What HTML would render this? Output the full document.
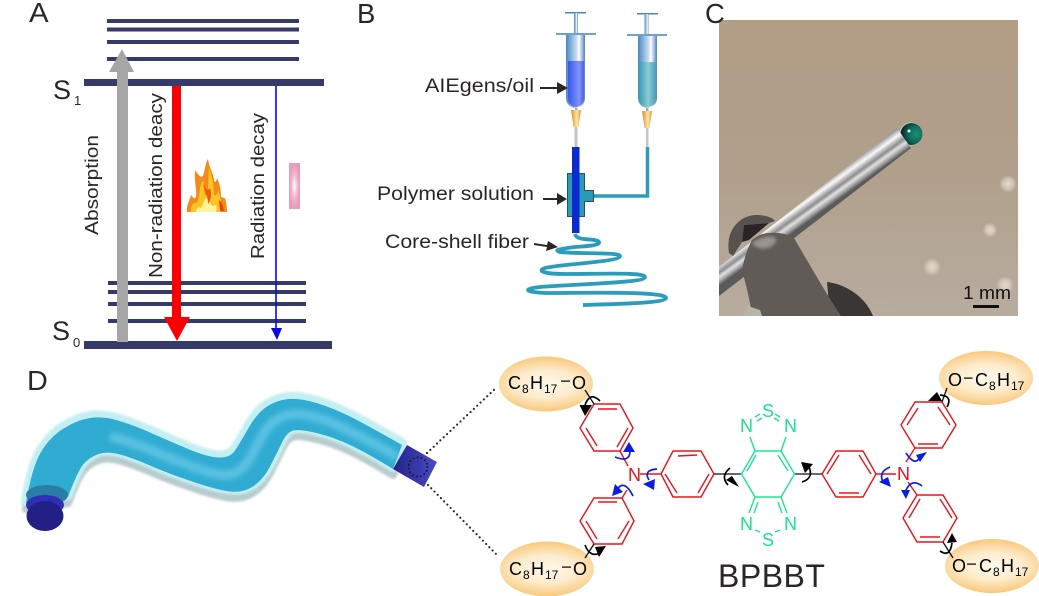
<!DOCTYPE html>
<html><head><meta charset="utf-8"><style>
html,body{margin:0;padding:0;background:#fff}
svg{display:block}
text{font-family:"Liberation Sans",Arial,sans-serif;fill:#2b2626}
.lab{font-size:28px}
.rot{font-size:18px}
.b{font-size:19px}
.m{font-size:18px;fill:#000}
.s{font-size:12px;fill:#000}
.n{font-size:18px;fill:#e8101c}
.g{font-size:18px;fill:#14e68c}
.r{stroke:#e8141c;stroke-width:1.4;fill:none}
.gr{stroke:#1ee58e;stroke-width:1.4;fill:none}
.k{stroke:#111;stroke-width:1.3;fill:none}
.ab{stroke:#0a1ee0;stroke-width:1.7;fill:none}
.ak{stroke:#000;stroke-width:1.7;fill:none}
</style></head><body>
<svg width="1039" height="596" viewBox="0 0 1039 596" xmlns="http://www.w3.org/2000/svg">
<defs>
<linearGradient id="bar" x1="0" x2="1" y1="0" y2="0"><stop offset="0" stop-color="#4b86c2"/><stop offset=".55" stop-color="#c5dcef"/><stop offset=".68" stop-color="#fff"/><stop offset="1" stop-color="#4f82ba"/></linearGradient>
<linearGradient id="liq1" x1="0" x2="1" y1="0" y2="0"><stop offset="0" stop-color="#3a56e6"/><stop offset=".7" stop-color="#8094fb"/><stop offset="1" stop-color="#4662ea"/></linearGradient>
<linearGradient id="liq2" x1="0" x2="1" y1="0" y2="0"><stop offset="0" stop-color="#389cb8"/><stop offset=".55" stop-color="#8ccbd0"/><stop offset="1" stop-color="#469dbf"/></linearGradient>
<linearGradient id="tip" x1="0" x2="1" y1="0" y2="0"><stop offset="0" stop-color="#d98a2c"/><stop offset=".6" stop-color="#ffe9a8"/><stop offset="1" stop-color="#e0902e"/></linearGradient>
<linearGradient id="photo" x1="0" x2="0" y1="0" y2="1"><stop offset="0" stop-color="#b29d86"/><stop offset=".5" stop-color="#b09f8a"/><stop offset="1" stop-color="#b8aca0"/></linearGradient>
<linearGradient id="rod" gradientUnits="userSpaceOnUse" x1="897" y1="128" x2="911" y2="147.4"><stop offset="0" stop-color="#8a8a8a"/><stop offset=".14" stop-color="#c4c4c4"/><stop offset=".28" stop-color="#fafafa"/><stop offset=".42" stop-color="#bdbdbd"/><stop offset=".55" stop-color="#8d8d8d"/><stop offset=".7" stop-color="#e2e2e2"/><stop offset=".86" stop-color="#a0a0a0"/><stop offset="1" stop-color="#5a5a5a"/></linearGradient>
<radialGradient id="ell" gradientTransform="translate(.5 .5) scale(1.3 1) translate(-.5 -.5)"><stop offset="0" stop-color="#fff8ea"/><stop offset=".5" stop-color="#fdeccd"/><stop offset="1" stop-color="#f9c87a"/></radialGradient>
<radialGradient id="pink"><stop offset="0" stop-color="#fff"/><stop offset=".55" stop-color="#efb6ca"/><stop offset="1" stop-color="#e79db6"/></radialGradient>
<radialGradient id="bok"><stop offset="0" stop-color="#e2dbcc"/><stop offset=".55" stop-color="#d9d0c0" stop-opacity=".8"/><stop offset="1" stop-color="#d0c5b5" stop-opacity="0"/></radialGradient>
<radialGradient id="ball" cx=".72" cy=".5" r=".75"><stop offset="0" stop-color="#1d8f76"/><stop offset=".5" stop-color="#0f6a58"/><stop offset=".85" stop-color="#0a2f2a"/><stop offset="1" stop-color="#0a1c1a"/></radialGradient>
<linearGradient id="end" x1="0" x2="1" y1="0" y2="0"><stop offset="0" stop-color="#23238a"/><stop offset="1" stop-color="#4a4ac8"/></linearGradient>
<filter id="bl1" x="-20%" y="-20%" width="140%" height="140%"><feGaussianBlur stdDeviation="1.5"/></filter>
<filter id="bl2" x="-20%" y="-20%" width="140%" height="140%"><feGaussianBlur stdDeviation="3"/></filter>
<filter id="bl3" x="-20%" y="-20%" width="140%" height="140%"><feGaussianBlur stdDeviation="1"/></filter>
<clipPath id="ph"><rect x="719" y="20" width="299" height="296"/></clipPath>
<path id="tube" d="M26 503Q32 467 41 452Q50 437 63.500 428.500Q77 420 90 418Q103 416 118 420.500Q133 425 150 432.500Q167 440 187 448.500Q207 457 218.500 457.500Q230 458 235 450.500Q240 443 248.500 428Q257 413 267 406.500Q277 400 288.500 399Q300 398 316.500 403Q333 408 350 416.500Q367 425 402 445L393 469Q367 453 350 445Q333 437 316.500 433Q300 429 293.500 430.500Q287 432 282 442.500Q277 453 270 466.500Q263 480 253 486.500Q243 493 230 491.500Q217 490 192 481.500Q167 473 150 465.500Q133 458 120 454.500Q107 451 98.500 454Q90 457 84 463.500Q78 470 68 497Z"/>
</defs>

<!-- Panel A -->
<text class="lab" x="0" y="0" transform="translate(29,22) scale(1.05,1)">A</text>
<g fill="#363a6a">
<rect x="107" y="19" width="192" height="4"/><rect x="107" y="27.500" width="192" height="4"/><rect x="107" y="40" width="192" height="4"/><rect x="107" y="57" width="192" height="4"/>
<rect x="84" y="79" width="240" height="7"/>
<rect x="108" y="281" width="198" height="4"/><rect x="108" y="290" width="198" height="4"/><rect x="108" y="302" width="198" height="4"/><rect x="108" y="319" width="198" height="4"/>
<rect x="84" y="341" width="248" height="8"/>
</g>
<path d="M117 342V72H109L122 49L134 72H128V342Z" fill="#a6a6a6"/>
<path d="M172 86H181V317H190L177 341L164 317H172Z" fill="#fb0000"/>
<path d="M276 86V329" stroke="#0a0ae6" stroke-width="1.600" fill="none"/>
<path d="M271 328H282L277 340Z" fill="#0a0ae6"/>
<text x="53" y="99" style="font-size:27px">S</text>
<text x="74" y="105" style="font-size:13px">1</text>
<text x="52" y="340" style="font-size:27px">S</text>
<text x="73" y="347" style="font-size:13px">0</text>
<text class="rot" transform="translate(98,235) rotate(-90)" textLength="100" lengthAdjust="spacingAndGlyphs">Absorption</text>
<text class="rot" transform="translate(162,278) rotate(-90)" textLength="185" lengthAdjust="spacingAndGlyphs">Non-radiation deacy</text>
<text class="rot" transform="translate(264,259) rotate(-90)" textLength="146" lengthAdjust="spacingAndGlyphs">Radiation decay</text>
<path d="M187 212C186 205 190 200 191 195C194 198 194 200 196 197C197 190 194 182 195 170C199 176 201 178 203 176C205 170 205 164 208 159C209 168 213 172 214 180C215 184 216 182 217 178C220 184 221 190 221 197C223 197 224 199 225 198C227 205 227 209 227 212Z" fill="#f58a1c"/>
<path d="M191 212C190 206 194 201 197 203C200 196 199 186 203 180C205 186 203 192 206 196C209 190 208 176 209 168C212 176 214 186 214 194C216 198 218 192 218 190C221 198 222 206 221 212Z" fill="#fcc524"/>
<path d="M196 212C196 208 199 206 201 208C204 204 204 198 207 198C210 202 211 206 213 206C215 205 216 204 216 206C217 208 216 210 216 212Z" fill="#fff3a0"/>
<path d="M203 184C205 192 208 196 208 204C211 200 212 194 210 188C208 192 206 188 203 184Z" fill="#ea5a12"/>
<path d="M219 200C222 202 223 206 224 211L220 211Z" fill="#e4401a"/>
<rect x="289" y="163" width="11" height="46" fill="url(#pink)"/>

<!-- Panel B -->
<text class="lab" transform="translate(357,23) scale(.98,1)">B</text>
<g>
<rect x="565" y="12" width="21" height="1.500" fill="#4a86c2"/>
<rect x="574" y="13" width="4" height="20" fill="url(#bar)"/>
<rect x="556" y="33" width="40" height="2" fill="#6fa0d0"/>
<path d="M566 35H585V98A9.500 10 0 0 1 566 98Z" fill="url(#bar)"/>
<path d="M568 61H584V98A8 9 0 0 1 568 98Z" fill="url(#liq1)"/>
<rect x="575" y="108" width="2.500" height="3" fill="#9ab"/>
<path d="M571 110H581L578.500 127H573.500Z" fill="url(#tip)"/>
<rect x="574.500" y="127" width="3" height="20" fill="#c4c4c4"/>
<rect x="637" y="13" width="21" height="1.500" fill="#4a86c2"/>
<rect x="644.500" y="14" width="4" height="20" fill="url(#bar)"/>
<rect x="627" y="34" width="40" height="2" fill="#6fa0d0"/>
<path d="M638 36H657V98A9.500 10 0 0 1 638 98Z" fill="url(#bar)"/>
<path d="M639 62H656V98A8.500 9 0 0 1 639 98Z" fill="url(#liq2)"/>
<rect x="646" y="108" width="2.500" height="3" fill="#9ab"/>
<path d="M642 111H652L649.500 128H644.500Z" fill="url(#tip)"/>
<rect x="646" y="128" width="2.500" height="19" fill="#c4c4c4"/>
</g>
<path d="M647.500 147V196H592" stroke="#2b9cbb" stroke-width="3.500" fill="none"/>
<path d="M567.500 173.500H584.500V190.500H593.500V201.500H584.500V216.500H567.500Z" fill="#2a9ab8" stroke="#27535f" stroke-width="1"/>
<rect x="572" y="147" width="7.500" height="86" fill="#0a2bd0"/>
<path d="M575 234C577 241 590 238 598 241C603 245 590 246 575 247C560 249 553 250 560 252C575 254 620 252 620 256C620 262 560 264 545 268C536 271 545 274 565 274C600 274 645 272 645 277C645 283 575 284 540 287C522 289 525 292 545 293C590 293 666 291 666 298C665 303 620 304 583 305" stroke="#2b9cbb" stroke-width="3.800" fill="none"/>
<text class="b" x="425" y="92" textLength="109" lengthAdjust="spacingAndGlyphs">AIEgens/oil</text>
<text class="b" x="377" y="200" textLength="157" lengthAdjust="spacingAndGlyphs">Polymer solution</text>
<text class="b" x="385" y="248" textLength="144" lengthAdjust="spacingAndGlyphs">Core-shell fiber</text>
<g fill="#2b2626" stroke="none">
<path d="M540 87H557V82L568 88L557 94V89H540Z"/>
<path d="M543 198H557V193L567 199L557 205V200H543Z"/>
<path d="M534 243L547 245L548 241L558 247L546 251L547 247L534 245Z"/>
</g>

<!-- Panel C -->
<g clip-path="url(#ph)">
<rect x="719" y="20" width="299" height="296" fill="url(#photo)"/>
<circle cx="1008" cy="184" r="9" fill="url(#bok)"/>
<circle cx="990" cy="230" r="7.500" fill="url(#bok)"/>
<circle cx="932" cy="267" r="9" fill="url(#bok)"/>
<circle cx="1005" cy="285" r="9" fill="url(#bok)"/>
<path d="M729 253C725 228 742 215 756 215C766 215 773 218 775 221L769 223L744 225L742 242L733 256Z" fill="#57524e"/>
<path d="M744 225L769 223L749 240L742 242Z" fill="#2a2523"/>
<path d="M827 282C845 284 865 296 873 316H830Z" fill="#3a3633"/>
<circle cx="911" cy="134" r="11.500" fill="#d5d3cb"/>
<circle cx="911.500" cy="134" r="11" fill="url(#ball)"/>
<path d="M719 267L897 128L911 148L719 296Z" fill="url(#rod)"/>
<circle cx="909" cy="131" r="1.500" fill="#eef"/>
<path d="M752 240C757 236 763 233 769 233C778 232 788 234 794 238C808 262 824 290 841 316H752C750 300 746 285 742 270C744 258 748 248 752 240Z" fill="#605b57"/>
<path d="M752 243C765 233 785 235 772 246C765 250 758 250 752 243Z" fill="#98938e" filter="url(#bl1)"/>
<path d="M743 316L748 306L760 310L762 316Z" fill="#b9b3aa"/>
</g>
<text class="lab" transform="translate(705,23) scale(.98,1)">C</text>
<text x="963" y="299" style="font-size:18px;fill:#111" textLength="48" lengthAdjust="spacingAndGlyphs">1 mm</text>
<rect x="973" y="305" width="26" height="3" fill="#111"/>

<!-- Panel D -->
<text class="lab" transform="translate(27,390) scale(1.03,1)">D</text>
<use href="#tube" transform="translate(0,6)" fill="#b8ccce" stroke="#b8ccce" stroke-width="8" stroke-linejoin="round" filter="url(#bl3)"/>
<use href="#tube" transform="translate(0,-2)" fill="#c4eff2" stroke="#c4eff2" stroke-width="10" stroke-linejoin="round" filter="url(#bl3)"/>
<use href="#tube" fill="#30abd2"/>
<path d="M110 437C135 440 190 470 222 475C250 478 255 440 270 425C285 410 305 412 330 422C360 435 380 447 398 457" fill="none" stroke="#68c9e8" stroke-width="9" opacity=".8" filter="url(#bl2)"/>
<ellipse cx="47" cy="495" rx="21" ry="10" fill="#2a7da5"/>
<ellipse cx="45" cy="505" rx="19" ry="10" fill="#2f2fb5"/>
<ellipse cx="45" cy="516" rx="18.500" ry="15" fill="#241f85"/>
<path d="M407 445L437 462L424 487L393 469Z" fill="url(#end)"/>
<circle cx="418" cy="467" r="9.500" fill="none" stroke="#1a1a1a" stroke-width="2" stroke-linecap="round" stroke-dasharray="0 4"/>
<g stroke="#2a2a2a" stroke-width="2.200" stroke-linecap="round" stroke-dasharray="0 4.600" fill="none">
<path d="M427 453L497 387"/>
<path d="M428 485L498 556"/>
</g>

<!-- Ellipses -->
<ellipse cx="546" cy="384" rx="47" ry="27.500" fill="url(#ell)"/>
<ellipse cx="547" cy="569" rx="47" ry="27.500" fill="url(#ell)"/>
<ellipse cx="986" cy="378" rx="47" ry="27" fill="url(#ell)"/>
<ellipse cx="992" cy="566" rx="47" ry="27" fill="url(#ell)"/>

<!-- Alkyl labels -->
<text class="m" x="508" y="389">C</text><text class="s" x="522" y="393">8</text><text class="m" x="530" y="389">H</text><text class="s" x="544" y="393">17</text><rect x="561" y="380.500" width="9" height="1.200" fill="#000"/><text class="m" x="572" y="389">O</text>
<text class="m" x="509" y="575">C</text><text class="s" x="523" y="579">8</text><text class="m" x="531" y="575">H</text><text class="s" x="545" y="579">17</text><rect x="562" y="566.500" width="9" height="1.200" fill="#000"/><text class="m" x="573" y="575">O</text>
<text class="m" x="948" y="386">O</text><rect x="964" y="377.500" width="8.500" height="1.200" fill="#000"/><text class="m" x="975" y="386">C</text><text class="s" x="989" y="390">8</text><text class="m" x="997" y="386">H</text><text class="s" x="1011" y="390">17</text>
<text class="m" x="952" y="572">O</text><rect x="967" y="563.500" width="9" height="1.200" fill="#000"/><text class="m" x="979" y="572">C</text><text class="s" x="993" y="576">8</text><text class="m" x="1001" y="572">H</text><text class="s" x="1015" y="576">17</text>

<!-- Red rings -->
<g class="r">
<path class="r" d="M580 428L594 404H620L633 428L620 451H594ZM598 409H617M586 428L597 446M628 428L617 447M620 451L628 466"/>
<path class="r" d="M580 521L594 498H622L634 521L622 544H594ZM598 502H617M586 521L597 539M629 521L618 539M622 498L627 490"/>
<path class="r" d="M661 474L673 451H701L714 474L701 497H673ZM678 456L697 455M665 474L677 493M709 474L698 493M640 474H661"/>
<path class="r" d="M901 425L915 402H942L956 425L942 448H915ZM907 425L918 408M938 407L950 425M918 444H938M915 448L906 462"/>
<path class="r" d="M822 474L836 451H863L876 474L863 497H836ZM827 474L839 455M859 455L871 474M839 493H859M876 474H896"/>
<path class="r" d="M903 518L917 495H943L957 518L943 542H917ZM909 518L920 499M940 499L952 518M920 537H940M917 495L908 482"/>
</g>
<text class="n" x="628" y="481">N</text>
<text class="n" x="897" y="480">N</text>
<path class="k" d="M594 404L585 390M594 544L585 558M714 474H741M795 474H822M942 402L947 388M943 542L953 558"/>

<!-- Green core -->
<path class="gr" d="M741.500 474L755 451H781L794.500 474L781 497H755ZM756 455L747 471M778 455L788 471M755 451L750 437M781 451L786 437M755 497L749 513M758 502L754 513M781 497L787 513M778 502L782 513M755 417L760 414M757 421L762 418M775 414L780 417M774 418L779 421M755 530L760 532M775 532L780 530"/>
<text class="g" x="740" y="432">N</text><text class="g" x="784" y="432">N</text><text class="g" x="762" y="417">S</text>
<text class="g" x="740" y="530">N</text><text class="g" x="784" y="530">N</text><text class="g" x="762" y="546">S</text>
<text x="718" y="587" style="font-size:32px" letter-spacing=".5">BPBBT</text>

<!-- Rotation arrows: black -->
<path class="ak" d="M600 401Q590 391 585 405M585 545Q590 558 600 553M730 468Q720 476 728 485M802 482Q815 478 808 465M947 407Q953 396 940 395M940 551Q950 558 952 543"/>
<g fill="#000">
<path d="M579.500 405H592L585 416Z"/><path d="M595 547L606 546L599 557Z"/><path d="M726 480L739 487L732 476Z"/><path d="M801 462L813 464L805 473Z"/><path d="M928 401H942L937 392Z"/><path d="M947 543L957 542L952 533Z"/>
</g>
<!-- Rotation arrows: blue -->
<path class="ab" d="M615 457Q630 463 630 451M657 469Q643 470 649 480M633 496Q625 480 618 488M890 467Q878 472 883 482M906 453Q915 467 920 457M922 486Q912 478 906 490"/>
<g fill="#0a1ee0">
<path d="M623 452H635L629 442Z"/><path d="M643 484L654 490L655 479Z"/><path d="M612 496L623 492L615 484Z"/><path d="M879 482L891 487L888 477Z"/><path d="M916 455L927 452L920 462Z"/><path d="M901 490H910L906 499Z"/>
</g>
</svg>
</body></html>
